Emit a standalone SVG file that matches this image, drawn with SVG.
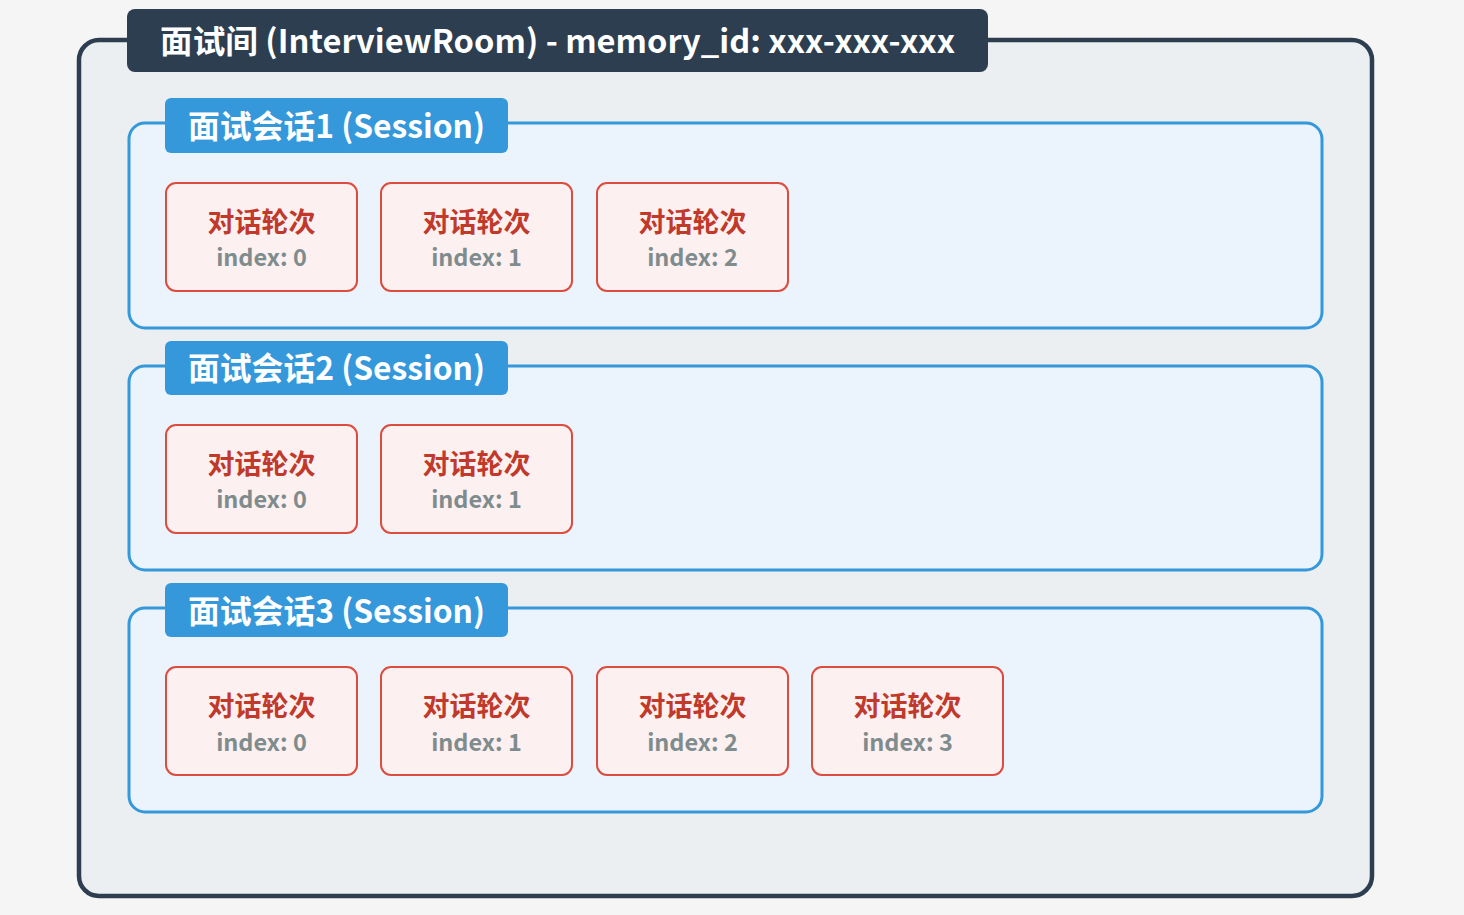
<svg xmlns="http://www.w3.org/2000/svg" width="1464" height="915" viewBox="0 0 1464 915">
<style>
.room{fill:#ebeff1;stroke:#2c3e50;stroke-width:4.5}
.roomtab{fill:#2c3e50}
.title{font-family:"Noto Sans CJK SC","Noto Sans",sans-serif;font-weight:700;fill:#ffffff}
.sess{fill:#ebf3fd;stroke:#3498db;stroke-width:3}
.sesstab{fill:#3498db}
.turn{fill:#fdf0f0;stroke:#dc4d3f;stroke-width:2}
.tlabel{font-family:"Noto Sans CJK SC","Noto Sans",sans-serif;font-weight:700;font-size:27px;fill:#c0392b;text-anchor:middle}
.tidx{font-family:"Noto Sans CJK SC","Noto Sans",sans-serif;font-weight:700;font-size:23.5px;fill:#7f8c8d;text-anchor:middle}
</style>
<rect width="1464" height="915" fill="#f5f5f5"/>
<g id="room">
<rect class="room" x="79" y="40" width="1293" height="856" rx="20"/>
<rect class="roomtab" x="127" y="9" width="861" height="63" rx="8"/>
<text class="title" x="160" y="53" font-size="32" textLength="795" lengthAdjust="spacingAndGlyphs">面试间 (InterviewRoom) - memory_id: xxx-xxx-xxx</text>
</g>
<g id="session1">
<rect class="sess" x="129" y="123" width="1193" height="205" rx="16"/>
<rect class="sesstab" x="165" y="98" width="343" height="55" rx="6"/>
<text class="title" x="188" y="138" font-size="32" textLength="297" lengthAdjust="spacingAndGlyphs">面试会话1 (Session)</text>
</g>
<g id="session2">
<rect class="sess" x="129" y="366" width="1193" height="204" rx="16"/>
<rect class="sesstab" x="165" y="341" width="343" height="54" rx="6"/>
<text class="title" x="188" y="380" font-size="32" textLength="297" lengthAdjust="spacingAndGlyphs">面试会话2 (Session)</text>
</g>
<g id="session3">
<rect class="sess" x="129" y="608" width="1193" height="204" rx="16"/>
<rect class="sesstab" x="165" y="583" width="343" height="54" rx="6"/>
<text class="title" x="188" y="623" font-size="32" textLength="297" lengthAdjust="spacingAndGlyphs">面试会话3 (Session)</text>
</g>
<g id="s1t0"><rect class="turn" x="166" y="183" width="191" height="108" rx="10"/><text class="tlabel" x="261.5" y="232">对话轮次</text><text class="tidx" x="261.5" y="266">index: 0</text></g>
<g id="s1t1"><rect class="turn" x="381" y="183" width="191" height="108" rx="10"/><text class="tlabel" x="476.5" y="232">对话轮次</text><text class="tidx" x="476.5" y="266">index: 1</text></g>
<g id="s1t2"><rect class="turn" x="597" y="183" width="191" height="108" rx="10"/><text class="tlabel" x="692.5" y="232">对话轮次</text><text class="tidx" x="692.5" y="266">index: 2</text></g>
<g id="s2t0"><rect class="turn" x="166" y="425" width="191" height="108" rx="10"/><text class="tlabel" x="261.5" y="474">对话轮次</text><text class="tidx" x="261.5" y="508">index: 0</text></g>
<g id="s2t1"><rect class="turn" x="381" y="425" width="191" height="108" rx="10"/><text class="tlabel" x="476.5" y="474">对话轮次</text><text class="tidx" x="476.5" y="508">index: 1</text></g>
<g id="s3t0"><rect class="turn" x="166" y="667" width="191" height="108" rx="10"/><text class="tlabel" x="261.5" y="716">对话轮次</text><text class="tidx" x="261.5" y="751">index: 0</text></g>
<g id="s3t1"><rect class="turn" x="381" y="667" width="191" height="108" rx="10"/><text class="tlabel" x="476.5" y="716">对话轮次</text><text class="tidx" x="476.5" y="751">index: 1</text></g>
<g id="s3t2"><rect class="turn" x="597" y="667" width="191" height="108" rx="10"/><text class="tlabel" x="692.5" y="716">对话轮次</text><text class="tidx" x="692.5" y="751">index: 2</text></g>
<g id="s3t3"><rect class="turn" x="812" y="667" width="191" height="108" rx="10"/><text class="tlabel" x="907.5" y="716">对话轮次</text><text class="tidx" x="907.5" y="751">index: 3</text></g>
<g id="connectors"/>
</svg>
